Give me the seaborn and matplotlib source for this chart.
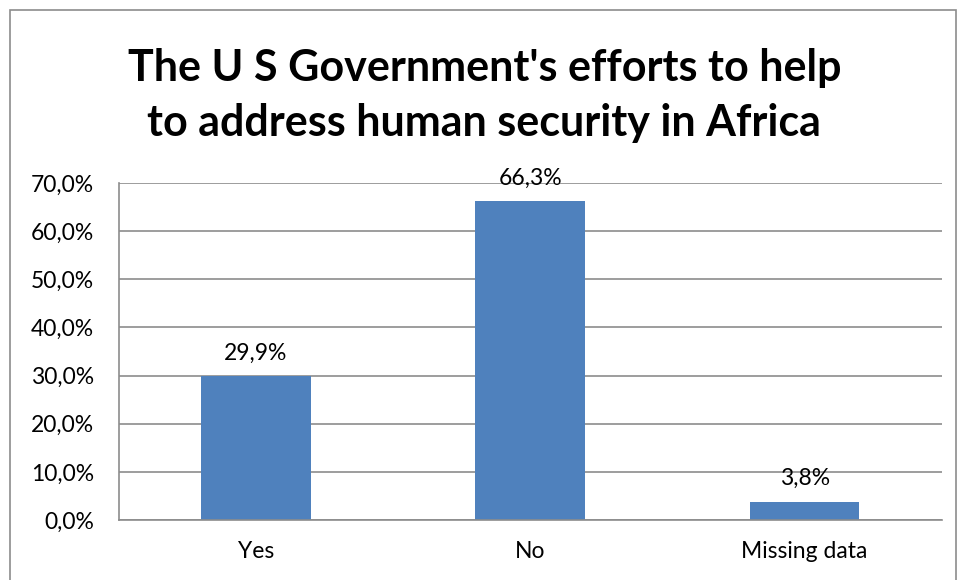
import matplotlib
matplotlib.use("Agg")
import matplotlib.pyplot as plt
import matplotlib.patches as patches
from matplotlib.ticker import FuncFormatter, MultipleLocator
import seaborn as sns
import pandas as pd

categories = ["Yes", "No", "Missing data"]
values = [29.9, 66.3, 3.8]
BAR_COLOR = "#4F81BD"
GRID_COLOR = "#8C8C8C"

sns.set_theme(style="white")
plt.rcParams["font.family"] = ["Lato", "DejaVu Sans"]

df = pd.DataFrame({"cat": categories, "val": values})

fig = plt.figure(figsize=(9.59, 5.8), dpi=100)
ax = fig.add_axes([0.124, 0.1034, 0.858, 0.581])

sns.barplot(data=df, x="cat", y="val", color=BAR_COLOR, width=0.4,
            saturation=1, linewidth=0, ax=ax)

ax.set_ylim(0, 70)
ax.set_xlim(-0.5, 2.5)
ax.yaxis.set_major_locator(MultipleLocator(10))
ax.yaxis.set_major_formatter(FuncFormatter(lambda v, _: f"{v:.1f}%".replace(".", ",")))
ax.yaxis.grid(True, color=GRID_COLOR, linewidth=1.2)
ax.set_axisbelow(True)
ax.set_xlabel("")
ax.set_ylabel("")

for s in ["top", "right"]:
    ax.spines[s].set_visible(False)
for s in ["left", "bottom"]:
    ax.spines[s].set_color(GRID_COLOR)
    ax.spines[s].set_linewidth(1.2)

# x ticks: labels at centres, tick marks at category boundaries
ax.set_xticks([0, 1, 2])
ax.set_xticklabels(categories)
ax.set_xticks([-0.5, 0.5, 1.5, 2.5], minor=True)
ax.tick_params(axis="x", which="major", length=0, labelsize=16.5, pad=15, colors="black")
ax.tick_params(axis="x", which="minor", length=7, width=1.2, color=GRID_COLOR, direction="out")
ax.tick_params(axis="y", length=7, width=1.2, color=GRID_COLOR, direction="out",
               labelsize=16.5, pad=11, labelcolor="black")

labels = [f"{v:.1f}%".replace(".", ",") for v in values]
ax.bar_label(ax.containers[0], labels=labels, padding=9, fontsize=16.5, color="black")

fig.text(0.505, 0.835, "The U S Government's efforts to help\nto address human security in Africa",
         ha="center", va="center", fontsize=31, fontweight="bold", linespacing=1.45,
         color="black")

fig.patches.append(patches.Rectangle((10 / 959, -0.1), 946 / 959, 1.1 - 10 / 580,
                                     transform=fig.transFigure, fill=False,
                                     edgecolor="#8C8C8C", linewidth=1.2))

fig.savefig("out.png", dpi=100)
